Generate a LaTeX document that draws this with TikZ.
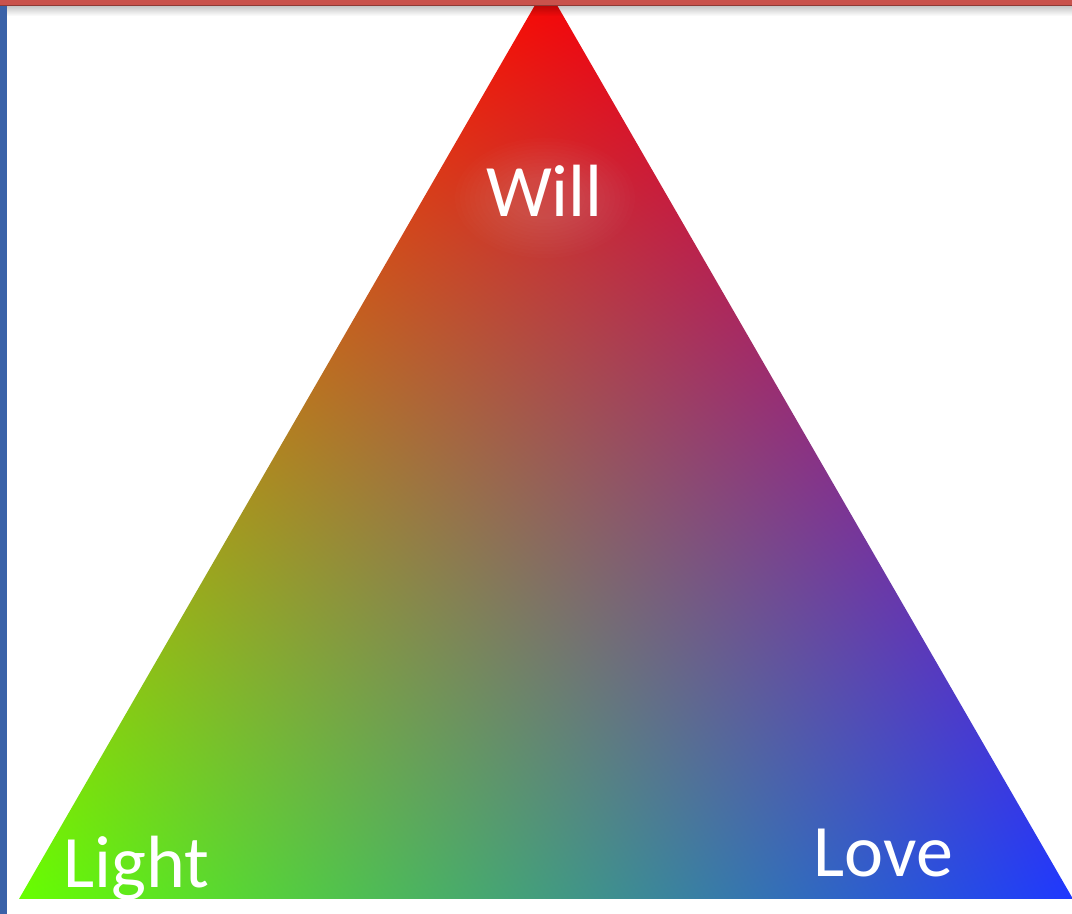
\documentclass[tikz,border=0pt]{standalone}
\usepackage{fontspec}
\setmainfont{Carlito}
\definecolor{topbarred}{HTML}{C9524C}
\definecolor{topbardark}{HTML}{8E3A36}
\definecolor{leftbarblue}{HTML}{3A62A8}
% barycentric colour interpolation over the triangle (units: bp, y up)
\pgfdeclarefunctionalshading{trishade}{\pgfpoint{0bp}{0bp}}{\pgfpoint{1072bp}{914bp}}{}{
15 sub 913 div exch 1 index 527 mul sub 19 sub 1054 div 2 copy add 1 exch sub
2 index 0.97 mul 2 index 0.12 mul add 1 index 0.40 mul add
3 index 0.02 mul 3 index 0.22 mul add 2 index add 4 index 4 index mul 0.3 mul add
4 index 0.02 mul 4 index add 5 index 4 index mul 0.5 mul add
6 3 roll pop pop pop
}
\tikzset{
  label/.style={text=white, font=\fontsize{74bp}{80bp}\selectfont, inner sep=0pt, anchor=base},
}
\begin{document}
\begin{tikzpicture}[x=1bp,y=1bp]
\useasboundingbox (0,0) rectangle (1072,914);
\coordinate (A) at (546,928);
\coordinate (B) at (19,15);
\coordinate (C) at (1073,15);
\begin{scope}
  \clip (A) -- (B) -- (C) -- cycle;
  \pgftext[left,bottom,at={\pgfpoint{0bp}{0bp}}]{\pgfuseshading{trishade}}
\end{scope}
% soft glow behind "Will"
\foreach \k in {1,...,12}{
  \fill[white, opacity=0.011] (545,716) ellipse ({30+5*\k} and {18+3.5*\k});
}
% top bar shadow
\foreach \i in {0,...,9}{
  \fill[black, opacity={0.22*(1-\i/10)}] (0,{907-\i}) rectangle (1072,{908-\i});
}
\fill[topbarred] (0,908) rectangle (1072,914);
\fill[topbardark] (0,907.5) rectangle (1072,909);
\fill[leftbarblue] (0,0) rectangle (7,907.5);
\node[label] (will) at (544.5,697) {Will};
\node[label] (light) at (136.5,26) {Light};
\node[label] (love) at (883.5,37) {Love};
\end{tikzpicture}
\end{document}
